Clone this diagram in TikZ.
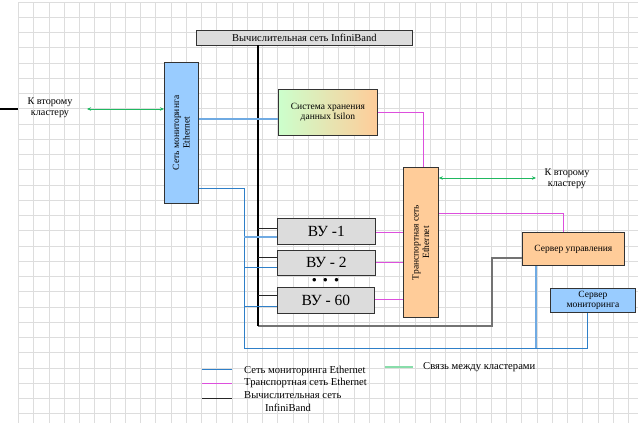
\documentclass[tikz,border=0pt]{standalone}
\usepackage{fontspec}
\setmainfont{Liberation Serif}
\usetikzlibrary{calc,arrows.meta}
\definecolor{gridc}{HTML}{DDDDDD}
\definecolor{boxgray}{HTML}{DCDCDC}
\definecolor{lblue}{HTML}{99CCFF}
\definecolor{orng}{HTML}{FFCC99}
\definecolor{lgreen}{HTML}{CCFFCC}
\definecolor{bline}{HTML}{2E7FC8}
\definecolor{bline2}{HTML}{6FAAE2}
\definecolor{mline}{HTML}{DD4FDD}
\definecolor{gline}{HTML}{1FB860}
\definecolor{lgline}{HTML}{88DDAA}
\begin{document}
\begin{tikzpicture}[x=1pt,y=-1pt,
  box/.style={draw=black!80, line width=0.8pt, inner sep=0pt, anchor=north west},
  lbl/.style={font=\fontsize{9.5}{10.5}\selectfont, align=center, inner sep=0pt},
  klbl/.style={font=\fontsize{10.2}{11}\selectfont, align=center, inner sep=0pt},
  vulbl/.style={font=\fontsize{15.5}{16}\selectfont, inner sep=0pt},
  leg/.style={font=\fontsize{10.6}{11}\selectfont, align=center, inner sep=0pt},
  blue/.style={draw=bline, line width=1pt},
  blue2/.style={draw=bline2, line width=1.1pt},
  mag/.style={draw=mline, line width=1pt},
  ibl/.style={draw=black, line width=2pt},
  ibthin/.style={draw=black!85, line width=0.8pt},
  grn/.style={draw=gline, line width=1pt, {Stealth[length=4pt,width=3.5pt]}-{Stealth[length=4pt,width=3.5pt]}}]
\useasboundingbox (0,0) rectangle (638,423);
\fill[white] (0,0) rectangle (638,423);
\begin{scope}
\clip (18,2) rectangle (638,423);
\foreach \i in {0,...,41} \draw[gridc, line width=0.6pt] ({18.3+15.25*\i},2) -- ({18.3+15.25*\i},423);
\foreach \j in {0,...,28} \draw[gridc, line width=0.6pt] (18,{2+15.25*\j}) -- (638,{2+15.25*\j});
\end{scope}
% stray line
\coordinate (s1) at (0,109); \coordinate (s2) at (18,109);
\draw[line width=1.5pt] (s1) -- (s2);
% boxes
\node[box, fill=boxgray, minimum width=216, minimum height=15] (ib) at (196,30) {};
\node[lbl, font=\fontsize{10.5}{11}\selectfont] at (ib.center) {Вычислительная сеть InfiniBand};
\node[box, fill=lblue, minimum width=34, minimum height=141] (mon) at (164,62) {};
\node[lbl, rotate=90] at (mon.center) {Сеть мониторинга\\Ethernet};
\node[box, left color=lgreen, right color=orng, minimum width=99, minimum height=46] (stor) at (278,89) {};
\node[lbl] at (stor.center) {Система хранения\\данных Isilon};
\node[box, fill=boxgray, minimum width=98, minimum height=26] (vu1) at (277,218) {};
\node[vulbl] at (vu1.center) {ВУ -1};
\node[box, fill=boxgray, minimum width=98, minimum height=25] (vu2) at (277,250) {};
\node[vulbl] at (vu2.center) {ВУ - 2};
\node[box, fill=boxgray, minimum width=97, minimum height=26] (vu60) at (277,287) {};
\node[vulbl] at (vu60.center) {ВУ - 60};
\node[font=\fontsize{13}{13}\selectfont\bfseries, inner sep=0pt] (dots) at (325.5,281) {•\hspace{6.5pt}•\hspace{6.5pt}•};
\node[box, fill=orng, minimum width=35, minimum height=150] (tr) at (403,167) {};
\node[lbl, rotate=90] at (tr.center) {Транспортная сеть\\Ethernet};
\node[box, fill=orng, minimum width=102, minimum height=33] (smg) at (522,232) {};
\node[lbl] at (smg.center) {Сервер управления};
\node[box, fill=lblue, minimum width=85, minimum height=24] (smon) at (550,288) {};
\node[lbl] at (smon.center) {Сервер\\мониторинга};
% InfiniBand lines
\coordinate (ibtop) at (258,45);
\coordinate (ibbot) at (258,326);
\coordinate (g1) at (492,326);
\coordinate (g2) at (492,258);
\draw[draw=black!55, line width=1.3pt] (ibbot) -- (g1) -- (g2) -- (smg.west |- g2);
\draw[ibl] (ibtop) -- (ibbot);
\draw[ibthin] (258,228) -- (vu1.west |- 0,228);
\draw[ibthin] (258,257) -- (vu2.west |- 0,257);
\draw[ibthin] (258,295) -- (vu60.west |- 0,295);
% monitoring lines
\draw[blue2] (mon.east |- 0,119) -- (stor.west |- 0,119);
\coordinate (b1) at (244,188);
\coordinate (b2) at (244,348);
\coordinate (b3) at (587,348);
\coordinate (b4) at (536,348);
\draw[blue] (mon.east |- b1) -- (b1) -- (b2) -- (b3) -- (smon.south -| b3);
\draw[blue2] (b4) -- (smg.south -| b4);
\draw[blue2] (244,237) -- (vu1.west |- 0,237);
\draw[blue] (244,267) -- (vu2.west |- 0,267);
\draw[blue] (244,306) -- (vu60.west |- 0,306);
% transport lines
\draw[mag] (vu1.east |- 0,232) -- (tr.west |- 0,232);
\draw[mag] (vu2.east |- 0,262) -- (tr.west |- 0,262);
\draw[mag] (vu60.east |- 0,299) -- (tr.west |- 0,299);
\coordinate (m1) at (423,112);
\draw[mag] (stor.east |- m1) -- (m1) -- (tr.north -| m1);
\coordinate (m2) at (563,213);
\draw[mag] (tr.east |- m2) -- (m2) -- (smg.north -| m2);
% cluster links
\coordinate (c1) at (87,109);
\draw[grn] (mon.west |- c1) -- (c1);
\node[klbl] (k1) at (50,108) {К второму\\кластеру};
\coordinate (c2) at (536,178);
\draw[grn] (tr.east |- c2) -- (c2);
\node[klbl] (k2) at (567,179) {К второму\\кластеру};
% legend
\coordinate (l1a) at (202,369); \coordinate (l1b) at (232,369);
\draw[draw=bline, line width=1pt] (l1a) -- (l1b);
\node[leg, anchor=west] (lt1) at (244,371) {Сеть мониторинга Ethernet};
\coordinate (l2a) at (202,383); \coordinate (l2b) at (232,383);
\draw[draw=mline, line width=1pt] (l2a) -- (l2b);
\node[leg, anchor=west] (lt2) at (244,383) {Транспортная сеть Ethernet};
\coordinate (l3a) at (202,398); \coordinate (l3b) at (232,398);
\draw[draw=black!85, line width=0.8pt] (l3a) -- (l3b);
\node[leg, anchor=west] (lt3) at (244,395.5) {Вычислительная сеть};
\node[leg] (lt3b) at (288,407.5) {InfiniBand};
\coordinate (l4a) at (385,367); \coordinate (l4b) at (413,367);
\draw[draw=lgline, line width=1.3pt] (l4a) -- (l4b);
\node[leg, anchor=west] (lt4) at (423,367) {Связь между кластерами};
\end{tikzpicture}
\end{document}
